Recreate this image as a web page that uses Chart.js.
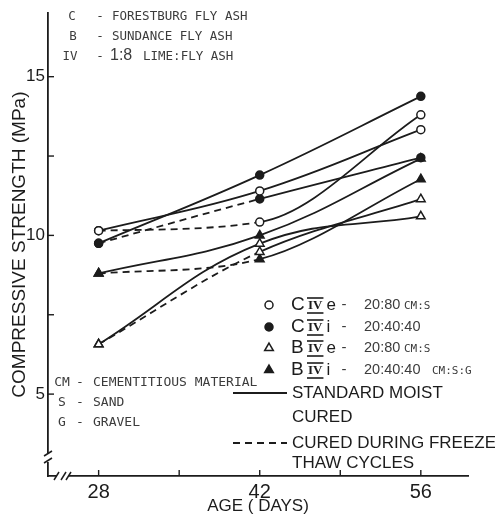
<!DOCTYPE html>
<html>
<head>
<meta charset="utf-8">
<script src="https://cdn.jsdelivr.net/npm/chart.js@4.4.0/dist/chart.umd.min.js"></script>
<style>
  html, body { margin: 0; padding: 0; background: #fff; }
</style>
</head>
<body>
<canvas id="strengthChart" width="495" height="515"></canvas>
<script>
// ages (days) and compressive strength (MPa)
const ages = [28, 42, 56];
const civeMoist = [10.15, 11.4, 13.33];
const civeFreeze = [10.15, 10.42, 13.8];
const civiMoist = [9.75, 11.9, 14.38];
const civiFreeze = [9.75, 11.15, 12.45];
const biveMoist = [6.57, 9.74, 10.6];
const biveFreeze = [6.57, 9.48, 11.14];
const biviMoist = [8.8, 10.0, 12.42];
const biviFreeze = [8.8, 9.25, 11.77];

const xTicks = [28, 35, 42, 49, 56];
const xLabels = [28, 42, 56];
const yTicks = [5, 7.5, 10, 12.5, 15];
const yLabels = [5, 10, 15];

const ink = '#1c1c1c';
const grey = '#3c3c3c';

// one dataset per curve; freeze-thaw curves are dashed between 28 and 42 days
function series(values, style, filled, freeze) {
    return {
        data: ages.map((a, i) => ({ x: a, y: values[i] })),
        borderColor: ink,
        borderWidth: 1.8,
        tension: 0.4,
        cubicInterpolationMode: freeze ? 'monotone' : 'default',
        pointStyle: style,
        pointRadius: style === 'triangle' ? 5 : 4,
        pointBorderWidth: 1.5,
        pointBorderColor: ink,
        pointBackgroundColor: filled ? ink : '#fff',
        segment: {
            borderDash: c => (freeze && c.p0DataIndex === 0 ? [7, 5] : undefined)
        }
    };
}

function line(ctx, x1, y1, x2, y2) {
    ctx.beginPath();
    ctx.moveTo(x1, y1);
    ctx.lineTo(x2, y2);
    ctx.stroke();
}

function text(ctx, s, x, y, font, align, color) {
    ctx.font = font;
    ctx.textAlign = align || 'left';
    ctx.textBaseline = 'middle';
    ctx.fillStyle = color || ink;
    ctx.fillText(s, x, y);
}

// roman numeral with bars above and below
function roman(ctx, x, y) {
    ctx.font = 'bold 13px "Liberation Serif"';
    ctx.textAlign = 'left';
    ctx.textBaseline = 'middle';
    ctx.fillStyle = ink;
    ctx.fillText('IV', x + 1, y + 1);
    const w = ctx.measureText('IV').width + 2;
    ctx.lineWidth = 1.6;
    line(ctx, x, y - 7, x + w, y - 7);
    line(ctx, x, y + 8, x + w, y + 8);
    return w;
}

function marker(ctx, style, filled, x, y) {
    ctx.fillStyle = filled ? ink : '#fff';
    ctx.strokeStyle = ink;
    ctx.lineWidth = 1.5;
    Chart.helpers.drawPoint(ctx, {
        pointStyle: style,
        radius: style === 'triangle' ? 5 : 4,
        borderWidth: 1.5,
        rotation: 0
    }, x, y);
}

const annotations = {
    id: 'annotations',
    afterDraw(chart) {
        const ctx = chart.ctx;
        const xs = chart.scales.x;
        const ys = chart.scales.y;
        const area = chart.chartArea;
        ctx.save();

        // inward tick marks
        ctx.strokeStyle = ink;
        ctx.lineWidth = 1.4;
        yTicks.forEach(v => {
            const py = ys.getPixelForValue(v);
            line(ctx, area.left, py, area.left + 6, py);
        });
        xTicks.forEach(v => {
            const px = xs.getPixelForValue(v);
            line(ctx, px, area.bottom, px, area.bottom - 6);
        });

        // axis breaks
        ctx.fillStyle = '#fff';
        ctx.fillRect(area.left - 3, 454, 6, 8);
        ctx.fillRect(57, area.bottom - 3, 11, 6);
        ctx.strokeStyle = ink;
        ctx.lineWidth = 1.5;
        line(ctx, area.left - 4, 456, area.left + 4, 451);
        line(ctx, area.left - 4, 463, area.left + 4, 458);
        line(ctx, 54, area.bottom + 4, 59, area.bottom - 4);
        line(ctx, 61, area.bottom + 4, 66, area.bottom - 4);
        line(ctx, 66, area.bottom + 4, 71, area.bottom - 4);

        // key to the mix letters (top left)
        const mono = '12.5px "DejaVu Sans Mono"';
        text(ctx, 'C', 72, 17, mono, 'center', grey);
        text(ctx, '-', 100, 17, mono, 'center', grey);
        text(ctx, 'FORESTBURG FLY ASH', 112, 17, mono, 'left', grey);
        text(ctx, 'B', 73, 37, mono, 'center', grey);
        text(ctx, '-', 100, 37, mono, 'center', grey);
        text(ctx, 'SUNDANCE FLY ASH', 112, 37, mono, 'left', grey);
        text(ctx, 'IV', 70, 57, mono, 'center', grey);
        text(ctx, '-', 100, 57, mono, 'center', grey);
        text(ctx, '1:8', 110, 56, '16px "Liberation Sans"', 'left', grey);
        text(ctx, 'LIME:FLY ASH', 143, 57, mono, 'left', grey);

        // key to the abbreviations (bottom left)
        const mono2 = '13px "DejaVu Sans Mono"';
        text(ctx, 'CM', 62, 383, mono2, 'center', grey);
        text(ctx, '-', 80, 383, mono2, 'center', grey);
        text(ctx, 'CEMENTITIOUS MATERIAL', 93, 383, mono2, 'left', grey);
        text(ctx, 'S', 62, 403, mono2, 'center', grey);
        text(ctx, '-', 80, 403, mono2, 'center', grey);
        text(ctx, 'SAND', 93, 403, mono2, 'left', grey);
        text(ctx, 'G', 62, 423, mono2, 'center', grey);
        text(ctx, '-', 80, 423, mono2, 'center', grey);
        text(ctx, 'GRAVEL', 93, 423, mono2, 'left', grey);

        // marker legend (right)
        const rows = [
            { y: 305, style: 'circle', filled: false, fly: 'C', sub: 'e', mix: '20:80', tail: 'CM:S' },
            { y: 327, style: 'circle', filled: true, fly: 'C', sub: 'i', mix: '20:40:40', tail: '' },
            { y: 348, style: 'triangle', filled: false, fly: 'B', sub: 'e', mix: '20:80', tail: 'CM:S' },
            { y: 370, style: 'triangle', filled: true, fly: 'B', sub: 'i', mix: '20:40:40', tail: 'CM:S:G' }
        ];
        const big = '19px "Liberation Sans"';
        rows.forEach(r => {
            marker(ctx, r.style, r.filled, 269, r.y);
            text(ctx, r.fly, 291, r.y, big);
            const w = roman(ctx, 307, r.y);
            text(ctx, r.sub, 307 + w + 3, r.y, '17px "Liberation Sans"');
            text(ctx, '-', 344, r.y, '15px "Liberation Sans"', 'center', grey);
            text(ctx, r.mix, 364, r.y, '14.5px "Liberation Sans"', 'left', grey);
            if (r.tail) {
                text(ctx, r.tail, r.mix.length > 5 ? 432 : 404, r.y + 1, '11px "DejaVu Sans Mono"', 'left', grey);
            }
        });

        // line-style legend
        const lab = '17px "Liberation Sans"';
        ctx.strokeStyle = ink;
        ctx.lineWidth = 1.8;
        line(ctx, 233, 393, 287, 393);
        text(ctx, 'STANDARD MOIST', 292, 393, lab);
        text(ctx, 'CURED', 292, 417, lab);
        ctx.setLineDash([7, 5]);
        line(ctx, 233, 443, 287, 443);
        ctx.setLineDash([]);
        text(ctx, 'CURED DURING FREEZE', 292, 443, lab);
        text(ctx, 'THAW CYCLES', 292, 463, lab);

        ctx.restore();
    }
};

const ctx = document.getElementById('strengthChart').getContext('2d');
new Chart(ctx, {
    type: 'line',
    data: {
        datasets: [
            series(civiMoist, 'circle', true, false),
            series(civeMoist, 'circle', false, false),
            series(civiFreeze, 'circle', true, true),
            series(civeFreeze, 'circle', false, true),
            series(biviMoist, 'triangle', true, false),
            series(biveMoist, 'triangle', false, false),
            series(biveFreeze, 'triangle', false, true),
            series(biviFreeze, 'triangle', true, true)
        ]
    },
    options: {
        responsive: false,
        animation: false,
        layout: { padding: { top: 10, right: 27, left: 0, bottom: 0 } },
        plugins: { legend: { display: false }, tooltip: { enabled: false } },
        scales: {
            x: {
                type: 'linear',
                min: 23.6,
                max: 60.1,
                afterBuildTicks: s => { s.ticks = xTicks.map(v => ({ value: v })); },
                afterFit: s => { s.height = 39; },
                grid: { display: false, drawTicks: false },
                border: { display: true, color: ink, width: 1.8 },
                ticks: {
                    autoSkip: false,
                    maxRotation: 0,
                    padding: 4,
                    color: ink,
                    font: { family: 'Liberation Sans', size: 20 },
                    callback: v => (xLabels.includes(v) ? String(v) : '')
                },
                title: {
                    display: true,
                    text: 'AGE ( DAYS)',
                    color: ink,
                    padding: { top: 0, bottom: 0 },
                    font: { family: 'Liberation Sans', size: 17, lineHeight: 1 }
                }
            },
            y: {
                min: 2.42,
                max: 17,
                afterBuildTicks: s => { s.ticks = yTicks.map(v => ({ value: v })); },
                afterFit: s => { s.width = 48; },
                grid: { display: false, drawTicks: false },
                border: { display: true, color: ink, width: 1.8 },
                ticks: {
                    autoSkip: false,
                    padding: 3,
                    color: ink,
                    font: { family: 'Liberation Sans', size: 17 },
                    callback: v => (yLabels.includes(v) ? String(v) : '')
                },
                title: {
                    display: true,
                    text: 'COMPRESSIVE STRENGTH (MPa)',
                    color: ink,
                    padding: { top: 8, bottom: 0 },
                    font: { family: 'Liberation Sans', size: 19 }
                }
            }
        }
    },
    plugins: [annotations]
});
</script>
</body>
</html>
